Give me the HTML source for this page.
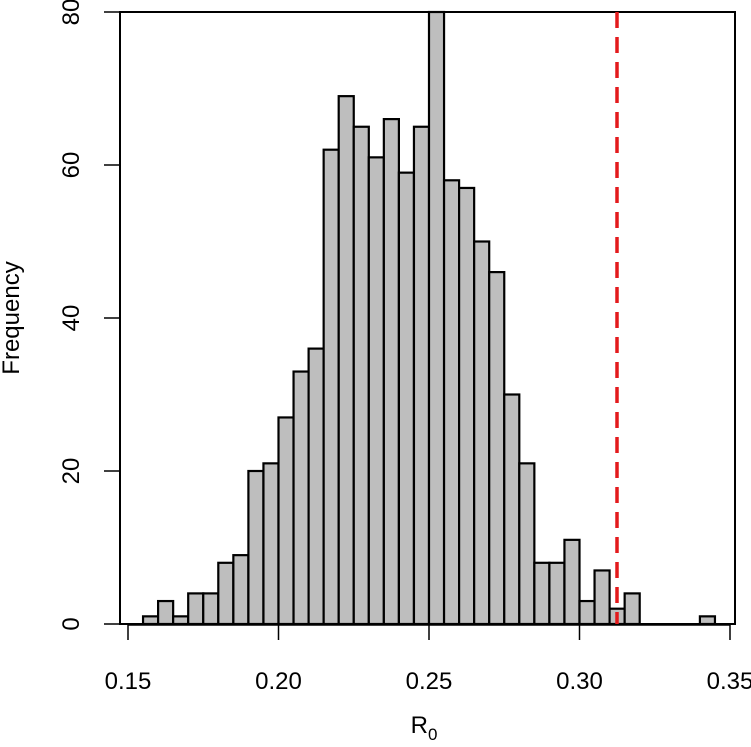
<!DOCTYPE html>
<html><head><style>body{margin:0;background:#fff}</style></head><body>
<svg width="751" height="742" viewBox="0 0 751 742" xmlns="http://www.w3.org/2000/svg" font-family="Liberation Sans, sans-serif">
<rect x="0" y="0" width="751" height="742" fill="#fff"/>
<g fill="#bebebe" stroke="#000" stroke-width="2.2">
<rect x="143.05" y="616.35" width="15.05" height="7.65"/>
<rect x="158.1" y="601.05" width="15.05" height="22.95"/>
<rect x="173.15" y="616.35" width="15.05" height="7.65"/>
<rect x="188.2" y="593.4" width="15.05" height="30.6"/>
<rect x="203.25" y="593.4" width="15.05" height="30.6"/>
<rect x="218.3" y="562.8" width="15.05" height="61.2"/>
<rect x="233.35" y="555.15" width="15.05" height="68.85"/>
<rect x="248.4" y="471" width="15.05" height="153"/>
<rect x="263.45" y="463.35" width="15.05" height="160.65"/>
<rect x="278.5" y="417.45" width="15.05" height="206.55"/>
<rect x="293.55" y="371.55" width="15.05" height="252.45"/>
<rect x="308.6" y="348.6" width="15.05" height="275.4"/>
<rect x="323.65" y="149.7" width="15.05" height="474.3"/>
<rect x="338.7" y="96.15" width="15.05" height="527.85"/>
<rect x="353.75" y="126.75" width="15.05" height="497.25"/>
<rect x="368.8" y="157.35" width="15.05" height="466.65"/>
<rect x="383.85" y="119.1" width="15.05" height="504.9"/>
<rect x="398.9" y="172.65" width="15.05" height="451.35"/>
<rect x="413.95" y="126.75" width="15.05" height="497.25"/>
<rect x="429" y="12" width="15.05" height="612"/>
<rect x="444.05" y="180.3" width="15.05" height="443.7"/>
<rect x="459.1" y="187.95" width="15.05" height="436.05"/>
<rect x="474.15" y="241.5" width="15.05" height="382.5"/>
<rect x="489.2" y="272.1" width="15.05" height="351.9"/>
<rect x="504.25" y="394.5" width="15.05" height="229.5"/>
<rect x="519.3" y="463.35" width="15.05" height="160.65"/>
<rect x="534.35" y="562.8" width="15.05" height="61.2"/>
<rect x="549.4" y="562.8" width="15.05" height="61.2"/>
<rect x="564.45" y="539.85" width="15.05" height="84.15"/>
<rect x="579.5" y="601.05" width="15.05" height="22.95"/>
<rect x="594.55" y="570.45" width="15.05" height="53.55"/>
<rect x="609.6" y="608.7" width="15.05" height="15.3"/>
<rect x="624.65" y="593.4" width="15.05" height="30.6"/>
<rect x="699.9" y="616.35" width="15.05" height="7.65"/>
</g>
<rect x="120" y="12" width="615" height="612" fill="none" stroke="#000" stroke-width="2"/>
<line x1="617" y1="12" x2="617" y2="624" stroke="#e31a1c" stroke-width="3.5" stroke-dasharray="16,9"/>
<g stroke="#000" stroke-width="1.5">
<line x1="128" y1="625" x2="730" y2="625"/>
<line x1="128" y1="625" x2="128" y2="640"/><line x1="278.5" y1="625" x2="278.5" y2="640"/>
<line x1="429" y1="625" x2="429" y2="640"/><line x1="579.5" y1="625" x2="579.5" y2="640"/>
<line x1="730" y1="625" x2="730" y2="640"/>
<line x1="104" y1="624" x2="120" y2="624"/><line x1="104" y1="471" x2="120" y2="471"/>
<line x1="104" y1="318" x2="120" y2="318"/><line x1="104" y1="165" x2="120" y2="165"/>
<line x1="104" y1="12" x2="120" y2="12"/>
</g>
<g font-size="24" text-anchor="middle" fill="#000">
<text x="128" y="689">0.15</text><text x="278.5" y="689">0.20</text><text x="429" y="689">0.25</text>
<text x="579.5" y="689">0.30</text><text x="730" y="689">0.35</text>
<text transform="translate(79,624) rotate(-90)">0</text>
<text transform="translate(79,471) rotate(-90)">20</text>
<text transform="translate(79,318) rotate(-90)">40</text>
<text transform="translate(79,165) rotate(-90)">60</text>
<text transform="translate(79,12) rotate(-90)">80</text>
<text transform="translate(19,318) rotate(-90)">Frequency</text>
<text x="424" y="733">R<tspan font-size="17" dy="7">0</tspan></text>
</g>
</svg>
</body></html>
